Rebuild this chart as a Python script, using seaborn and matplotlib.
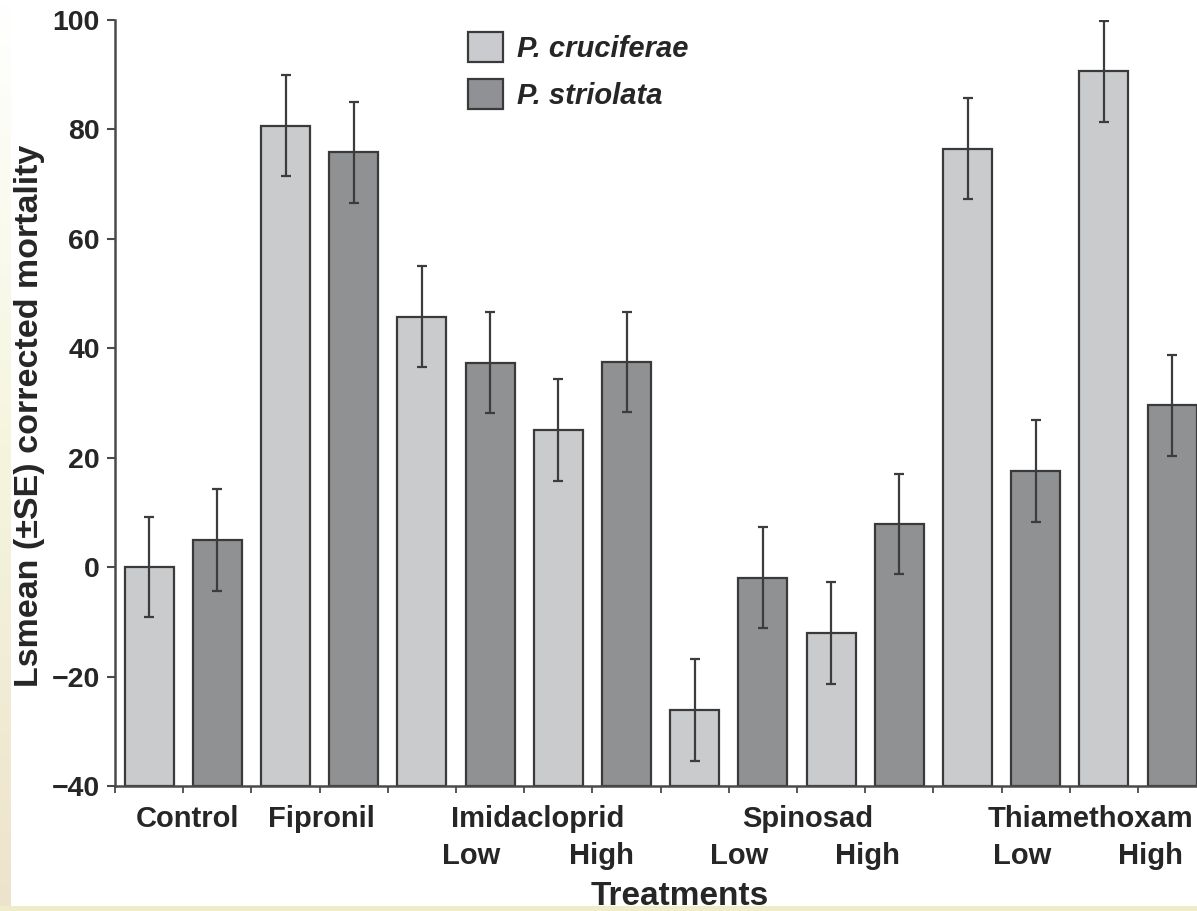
import numpy as np
import pandas as pd
import matplotlib
matplotlib.use("Agg")
import matplotlib.pyplot as plt
import seaborn as sns
from matplotlib.patches import Patch
from matplotlib.font_manager import FontProperties

# ---------------- data ----------------
treatments = ["Control", "Fipronil", "Imidacloprid Low", "Imidacloprid High",
              "Spinosad Low", "Spinosad High", "Thiamethoxam Low", "Thiamethoxam High"]
species = ["P. cruciferae", "P. striolata"]
cruciferae_mean = [0.0, 80.7, 45.8, 25.0, -26.1, -12.0, 76.5, 90.6]
striolata_mean = [4.9, 75.8, 37.4, 37.5, -1.9, 7.9, 17.6, 29.6]
cruciferae_se = [9.2, 9.2, 9.3, 9.3, 9.3, 9.3, 9.2, 9.3]
striolata_se = [9.3, 9.2, 9.3, 9.2, 9.3, 9.2, 9.3, 9.2]
group_labels = ["Control", "Fipronil", "Imidacloprid", "Spinosad", "Thiamethoxam"]
level_labels = ["Low", "High", "Low", "High", "Low", "High"]
y_ticks = [-40, -20, 0, 20, 40, 60, 80, 100]

# label placement (layout, in bar-slot units)
group_label_x = [0.57, 2.52, 5.70, 9.66, 13.80]
level_label_x = [4.72, 6.63, 8.65, 10.54, 12.80, 14.68]

# ---------------- style ----------------
sns.set_style("ticks")
plt.rcParams["font.family"] = ["Liberation Sans", "DejaVu Sans"]
plt.rcParams["font.weight"] = "bold"

light = "#c9cbce"
dark = "#8f9194"
edge = "#3a3a3a"
axis_col = "#4a4a4a"
text_col = "#262626"

W, H = 1197, 911
fig = plt.figure(figsize=(W / 100, H / 100), dpi=100)
fig.patch.set_facecolor("white")

ax_left, ax_bottom = 115 / W, 125 / H
ax_w, ax_h = 16 * 68.2 / W, 766 / H
ax = fig.add_axes([ax_left, ax_bottom, ax_w, ax_h])

# build long table
rows = []
order = []
for i, t in enumerate(treatments):
    for sp, means, ses in ((species[0], cruciferae_mean, cruciferae_se),
                           (species[1], striolata_mean, striolata_se)):
        slot = f"{t} | {sp}"
        order.append(slot)
        rows.append({"slot": slot, "species": sp, "value": means[i], "se": ses[i]})
df = pd.DataFrame(rows)

sns.barplot(data=df, x="slot", y="value", hue="species", order=order,
            hue_order=species, palette=[light, dark], dodge=False, width=0.72,
            edgecolor=edge, linewidth=1.6, legend=False, ax=ax, zorder=2)

# bars rise from the bottom of the axis (-40)
base = -40
for p in ax.patches:
    top = p.get_y() + p.get_height()
    p.set_y(base)
    p.set_height(top - base)

centers = sorted(p.get_x() + p.get_width() / 2 for p in ax.patches)
ax.errorbar(centers, df["value"].values, yerr=df["se"].values, fmt="none",
            ecolor="#3c3c3c", elinewidth=1.6, capsize=3.6, capthick=1.6, zorder=3)

ax.set_xlim(-0.5, 15.5)
ax.set_ylim(-40, 100)
ax.set_xticks(np.arange(-0.5, 15.0, 1.0))
ax.set_xticklabels([""] * 16)
ax.set_yticks(y_ticks)
ax.set_yticklabels([f"{v}".replace("-", "\u2212") for v in y_ticks],
                   fontsize=20.5, fontweight="bold", color=text_col)
ax.tick_params(axis="x", length=5, width=1.3, color=axis_col, direction="out")
ax.tick_params(axis="y", length=6, width=1.5, color=axis_col, direction="out", pad=5)

for s in ["top", "right"]:
    ax.spines[s].set_visible(False)
for s in ["left", "bottom"]:
    ax.spines[s].set_linewidth(1.8)
    ax.spines[s].set_color(axis_col)
ax.set_xlabel("")
ax.set_ylabel("")

trans = ax.get_xaxis_transform()
row1_y = (H - 827 - 125) / 766
row2_y = (H - 864 - 125) / 766
for lab, x in zip(group_labels, group_label_x):
    ax.text(x, row1_y, lab, transform=trans, ha="center", va="baseline",
            fontsize=21, fontweight="bold", color=text_col, clip_on=False)
for lab, x in zip(level_labels, level_label_x):
    ax.text(x, row2_y, lab, transform=trans, ha="center", va="baseline",
            fontsize=21, fontweight="bold", color=text_col, clip_on=False)

fig.text(680 / W, 1 - 905 / H, "Treatments", ha="center", va="baseline",
         fontsize=24, fontweight="bold", color=text_col)
fig.text(30 / W, 1 - 416 / H, "Lsmean (\u00b1SE) corrected mortality", rotation=90,
         ha="center", va="center", fontsize=24.5, fontweight="bold", color=text_col)

handles = [Patch(facecolor=light, edgecolor=edge, linewidth=1.6, label=species[0]),
           Patch(facecolor=dark, edgecolor=edge, linewidth=1.6, label=species[1])]
fig.legend(handles=handles, loc="upper left", bbox_to_anchor=(468 / W, 1 - 32 / H),
           frameon=False, borderpad=0, borderaxespad=0,
           prop=FontProperties(family="Liberation Sans", weight="bold", style="italic", size=21),
           handlelength=1.2, handleheight=1.2, labelspacing=0.55, handletextpad=0.48)

# faint scan-border tint at left and bottom edges
left_ax = fig.add_axes([0, 0, 11 / W, 1])
grad = np.linspace(0, 1, 256)
cols = np.zeros((256, 1, 3))
top_c = np.array([1.0, 1.0, 1.0])
mid_c = np.array([0.96, 0.96, 0.87])
bot_c = np.array([0.93, 0.89, 0.80])
for k, g in enumerate(grad):
    if g < 0.5:
        cols[k, 0] = top_c + (mid_c - top_c) * (g / 0.5)
    else:
        cols[k, 0] = mid_c + (bot_c - mid_c) * ((g - 0.5) / 0.5)
left_ax.imshow(cols, aspect="auto", extent=[0, 1, 0, 1])
left_ax.axis("off")
bot_ax = fig.add_axes([0, 0, 1, 5 / H])
bot_ax.add_patch(plt.Rectangle((0, 0), 1, 1, color="#efecca", transform=bot_ax.transAxes))
bot_ax.axis("off")

fig.savefig("out.png", dpi=100, facecolor="white")
